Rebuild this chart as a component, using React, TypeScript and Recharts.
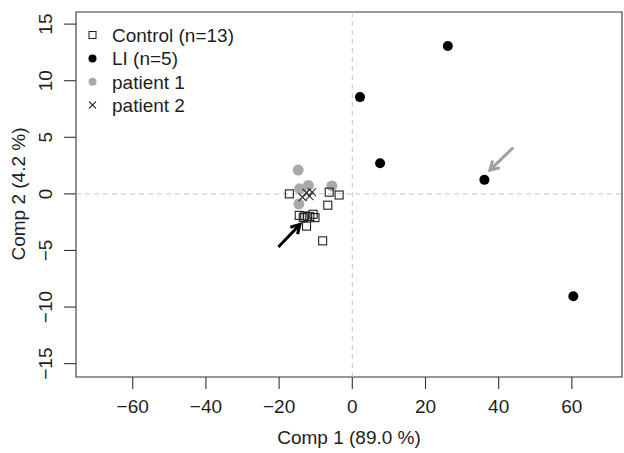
import React from "react";
import { ScatterChart, Scatter, XAxis, YAxis, ReferenceLine, ReferenceArea } from "recharts";

const FONT = "'Liberation Sans', Arial, Helvetica, sans-serif";
const INK = "#1e1e1e";
const FS = 19;

// tick values and ranges of the two components
const xTicks = [-60, -40, -20, 0, 20, 40, 60];
const yTicks = [-15, -10, -5, 0, 5, 10, 15];
const xRange = [-75.5, 73.7];
const yRange = [-16.18, 16.07];

// Control (n=13)
const controlX = [-17.2, -6.3, -3.6, -6.7, -14.5, -13.4, -12.2, -10.7, -10.2, -12.5, -8.1, -11.6, -13.0];
const controlY = [0.0, 0.15, -0.1, -1.0, -1.9, -2.1, -2.0, -1.8, -2.1, -2.85, -4.15, -2.0, -1.95];

// LI (n=5)
const liX = [26.1, 2.1, 7.6, 36.1, 60.4];
const liY = [13.06, 8.55, 2.7, 1.24, -9.05];

// patient 1
const p1X = [-14.8, -12.0, -5.6, -14.4, -14.6];
const p1Y = [2.1, 0.75, 0.7, 0.45, -0.9];

// patient 2
const p2X = [-13.6, -12.5, -11.7, -11.0];
const p2Y = [-0.3, 0.1, -0.2, 0.15];

// arrows (tail, head) in component units
const blackArrow = [{ x: -20.2, y: -4.69 }, { x: -14.3, y: -2.7 }];
const greyArrow = [{ x: 44.0, y: 4.1 }, { x: 37.6, y: 2.1 }];

const legendLabels = ["Control (n=13)", "LI (n=5)", "patient 1", "patient 2"];

const zip = (xs: number[], ys: number[]) => xs.map((x, i) => ({ x, y: ys[i] }));

const fmt = (v: number) => (v < 0 ? `\u2212${Math.abs(v)}` : `${v}`);

const Square = (p: any) => (
  <rect x={p.cx - 4} y={p.cy - 4} width={8} height={8} fill="none" stroke={INK} strokeWidth={1.1} />
);
const Dot = (fill: string, r: number) => (p: any) => <circle cx={p.cx} cy={p.cy} r={r} fill={fill} />;
const Cross = (p: any) => (
  <g stroke="#333" strokeWidth={1.2}>
    <line x1={p.cx - 4} y1={p.cy - 4} x2={p.cx + 4} y2={p.cy + 4} />
    <line x1={p.cx - 4} y1={p.cy + 4} x2={p.cx + 4} y2={p.cy - 4} />
  </g>
);

const arrow = (color: string) => (p: any) => {
  const { x1, y1, x2, y2 } = p;
  const a = Math.atan2(y2 - y1, x2 - x1);
  const len = 10;
  const s = Math.PI / 6;
  const ax = x2 - len * Math.cos(a - s);
  const ay = y2 - len * Math.sin(a - s);
  const bx = x2 - len * Math.cos(a + s);
  const by = y2 - len * Math.sin(a + s);
  return (
    <g stroke={color} strokeWidth={3} fill="none">
      <line x1={x1} y1={y1} x2={x2} y2={y2} />
      <polyline points={`${ax},${ay} ${x2},${y2} ${bx},${by}`} />
    </g>
  );
};

const XTick = (p: any) => (
  <text x={p.x} y={p.y + 22} textAnchor="middle" fontSize={FS} fontFamily={FONT} fill={INK}>
    {fmt(p.payload.value)}
  </text>
);
const YTick = (p: any) => (
  <text
    x={p.x - 10}
    y={p.y}
    transform={`rotate(-90, ${p.x - 10}, ${p.y})`}
    textAnchor="middle"
    fontSize={FS}
    fontFamily={FONT}
    fill={INK}
  >
    {fmt(p.payload.value)}
  </text>
);

export default function App() {
  return (
    <div style={{ position: "absolute", left: 0, top: 0, width: 624, height: 453, background: "#fff" }}>
      <ScatterChart width={624} height={453} margin={{ top: 12, right: 2, bottom: 0, left: 0 }}>
        <XAxis
          type="number"
          dataKey="x"
          domain={xRange}
          ticks={xTicks}
          allowDataOverflow
          height={76}
          tickSize={12}
          axisLine={false}
          tickLine={{ stroke: "#333", strokeWidth: 1.1 }}
          tick={<XTick />}
          interval={0}
        />
        <YAxis
          type="number"
          dataKey="y"
          domain={yRange}
          ticks={yTicks}
          allowDataOverflow
          width={76}
          tickSize={12}
          axisLine={false}
          tickLine={{ stroke: "#333", strokeWidth: 1.1 }}
          tick={<YTick />}
          interval={0}
        />
        <ReferenceArea
          x1={xRange[0]}
          x2={xRange[1]}
          y1={yRange[0]}
          y2={yRange[1]}
          fill="none"
          fillOpacity={0}
          stroke="#333"
          strokeWidth={1.1}
          ifOverflow="visible"
        />
        <ReferenceLine x={0} stroke="#c4c4c4" strokeDasharray="5 4" />
        <ReferenceLine y={0} stroke="#c4c4c4" strokeDasharray="5 4" />
        <Scatter data={zip(p1X, p1Y)} shape={Dot("#a9a9a9", 5.5)} isAnimationActive={false} />
        <Scatter data={zip(controlX, controlY)} shape={Square} isAnimationActive={false} />
        <Scatter data={zip(liX, liY)} shape={Dot("#000", 5)} isAnimationActive={false} />
        <Scatter data={zip(p2X, p2Y)} shape={Cross} isAnimationActive={false} />
        <ReferenceLine segment={blackArrow} shape={arrow("#000")} ifOverflow="visible" />
        <ReferenceLine segment={greyArrow} shape={arrow("#a0a0a0")} ifOverflow="visible" />
      </ScatterChart>
      <svg
        width={624}
        height={453}
        style={{ position: "absolute", left: 0, top: 0, pointerEvents: "none" }}
        fontFamily={FONT}
        fontSize={FS}
        fill={INK}
      >
        <g>
          <rect x={89} y={31.5} width={7} height={7} fill="none" stroke={INK} strokeWidth={1} />
          <circle cx={92.5} cy={58.5} r={4} fill="#000" />
          <circle cx={92.5} cy={81.8} r={4} fill="#a9a9a9" />
          <g stroke="#333" strokeWidth={1.1}>
            <line x1={89} y1={101.5} x2={96} y2={108.5} />
            <line x1={89} y1={108.5} x2={96} y2={101.5} />
          </g>
          {legendLabels.map((t, i) => (
            <text key={t} x={112} y={41.5 + i * 23.5}>
              {t}
            </text>
          ))}
        </g>
        <text x={349} y={444} textAnchor="middle">
          Comp 1 (89.0 %)
        </text>
        <text x={25} y={194} textAnchor="middle" transform="rotate(-90, 25, 194)">
          Comp 2 (4.2 %)
        </text>
      </svg>
    </div>
  );
}
